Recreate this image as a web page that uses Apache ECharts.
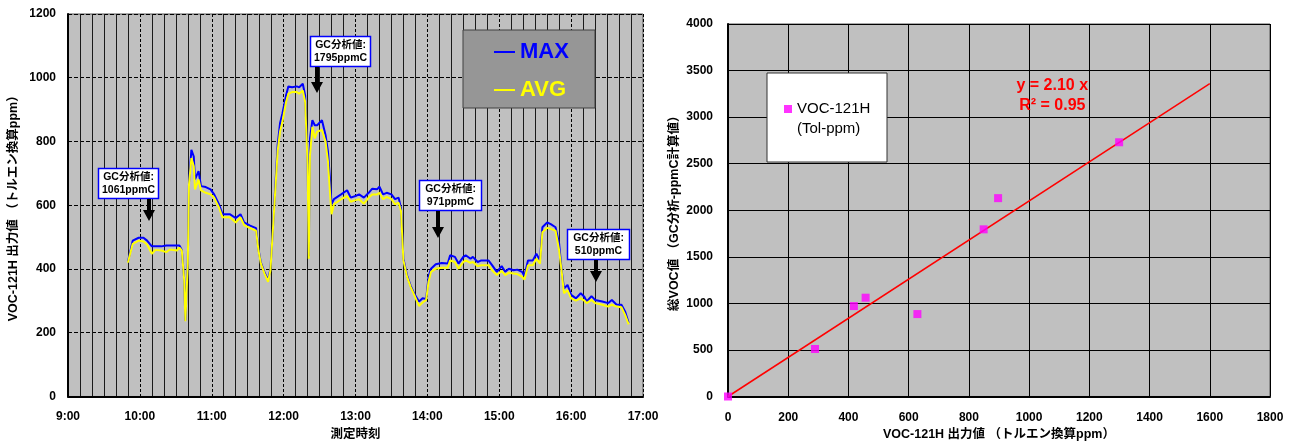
<!DOCTYPE html>
<html><head><meta charset="utf-8">
<script src="https://cdn.jsdelivr.net/npm/echarts@6.0.0/dist/echarts.min.js"></script>
<style>html,body{margin:0;padding:0;background:#fff}#c{width:1297px;height:446px}</style>
</head><body><div id="c"></div>
<script>
// ---- Left chart: time series (minutes since midnight) ----
const times = [590,594,599,603,606,610,613,618,622,625,631,633,635,637,638,640,641,643,645,646,649,651,655,659,662,666,669,675,680,684,687,692,697,699,701,704,707,709,711,715,717,719,722,724,727,731,733,736,738,740,741,742,744,746,748,752,755,757,759,760,762,768,773,776,780,783,787,791,794,798,800,803,806,810,813,816,818,820,823,826,829,833,836,839,841,843,847,852,857,859,863,866,870,872,876,878,882,885,891,894,898,902,905,908,912,915,919,921,924,928,931,934,936,940,943,947,950,952,954,957,960,964,968,971,973,977,980,986,991,994,998,1002,1005,1008];
const maxVals = [422,489,498,498,489,471,471,471,474,474,474,474,460,368,238,420,670,774,753,681,707,660,657,650,634,603,572,572,560,572,546,536,528,462,420,390,365,400,525,789,857,888,944,973,970,973,970,981,944,740,440,810,867,851,851,867,820,769,665,603,619,634,647,624,629,634,624,639,652,650,658,634,639,634,619,624,590,432,380,348,323,298,308,306,376,401,415,419,417,443,438,417,438,443,432,438,422,427,427,412,391,409,391,401,396,398,391,378,427,427,448,427,531,546,541,531,479,400,339,350,319,308,324,313,298,315,303,298,293,303,288,288,267,231];
const avgVals = [420,479,489,486,477,448,460,458,453,461,458,467,458,365,236,417,665,748,722,650,681,647,639,634,624,593,562,562,546,562,538,528,520,458,417,386,360,396,520,769,831,862,924,950,955,955,950,960,924,727,432,758,846,810,831,836,800,738,624,572,603,619,629,611,616,619,605,624,634,634,639,619,626,619,603,608,582,427,376,344,319,284,295,303,360,391,401,404,404,427,422,401,422,427,419,422,409,412,412,396,381,394,381,388,386,384,376,367,412,412,432,417,515,529,526,520,458,396,324,334,308,301,308,301,293,303,293,288,282,288,282,280,257,226];
const seriesNames = ['MAX', 'AVG'];
const timeMin = 540, timeMax = 1020, timeStep = 60;
const leftYMax = 1200, leftYStep = 200;

// GC analysis annotations (arrow tip in data coords)
const gcTitle = 'GC分析値:';
const gcTimes = [608, 748, 849, 981];
const gcTipValues = [552, 952, 498, 358];
const gcLabels = ['1061ppmC', '1795ppmC', '971ppmC', '510ppmC'];

// ---- Right chart: scatter ----
const vocOutput = [0, 289, 418, 457, 629, 849, 897, 1299];
const gcTotal   = [0, 510, 971, 1061, 885, 1795, 2130, 2730];
const scatterName = 'VOC-121H';
const scatterSub = '(Tol-ppm)';
const trendX = [0, 1600];
const slope = 2.10;
const r2 = 0.95;

const FONT = "'Liberation Sans', Arial, 'Noto Sans CJK JP', sans-serif";
const pad2 = n => (n < 10 ? '0' : '') + n;
const fmtTime = v => Math.floor(v / 60) + ':' + pad2(v % 60);
const fmtNum = v => String(v);

const chart = echarts.init(document.getElementById('c'), null, {renderer: 'canvas'});
const axisLabel = {color: '#000', fontFamily: FONT, fontWeight: 'bold', fontSize: 12};
const axisName = {color: '#000', fontFamily: FONT, fontWeight: 'bold', fontSize: 12.5};

const option = {
  animation: false,
  textStyle: {fontFamily: FONT},
  grid: [
    {left: 68, top: 14, width: 575, height: 386, show: true, backgroundColor: '#c0c0c0', borderColor: '#555', borderWidth: 1},
    {left: 728, top: 24, width: 542, height: 378, show: true, backgroundColor: '#c0c0c0', borderColor: '#555', borderWidth: 1}
  ],
  xAxis: [
    {gridIndex: 0, type: 'value', min: timeMin, max: timeMax, interval: timeStep,
     axisLine: {lineStyle: {color: '#000', width: 2}}, axisTick: {show: false},
     axisLabel: Object.assign({margin: 14, formatter: fmtTime}, axisLabel),
     splitLine: {show: true, lineStyle: {color: '#000', type: [3, 2], width: 1}},
     minorTick: {show: false, splitNumber: 6},
     minorSplitLine: {show: true, lineStyle: {color: '#1a1a1a', width: 1}},
     name: '測定時刻', nameLocation: 'middle', nameGap: 32, nameTextStyle: axisName},
    {gridIndex: 1, type: 'value', min: 0, max: 1800, interval: 200,
     axisLine: {lineStyle: {color: '#000', width: 2}}, axisTick: {show: false},
     axisLabel: Object.assign({margin: 15, formatter: fmtNum}, axisLabel),
     splitLine: {show: true, lineStyle: {color: '#000', width: 1}},
     name: 'VOC-121H 出力値 （トルエン換算ppm）', nameLocation: 'middle', nameGap: 32, nameTextStyle: axisName}
  ],
  yAxis: [
    {gridIndex: 0, type: 'value', min: 0, max: leftYMax, interval: leftYStep,
     axisLine: {show: true, lineStyle: {color: '#000', width: 2}}, axisTick: {show: false},
     axisLabel: Object.assign({margin: 12, formatter: fmtNum}, axisLabel),
     splitLine: {show: true, lineStyle: {color: '#000', type: [4, 2], width: 1}},
     name: 'VOC-121H 出力値 （トルエン換算ppm）', nameLocation: 'middle', nameGap: 48, nameTextStyle: axisName},
    {gridIndex: 1, type: 'value', min: 0, max: 4000, interval: 500,
     axisLine: {show: true, lineStyle: {color: '#000', width: 2}}, axisTick: {show: false},
     axisLabel: Object.assign({margin: 15, formatter: fmtNum}, axisLabel),
     splitLine: {show: true, lineStyle: {color: '#000', width: 1}},
     name: '総VOC値 （GC分析-ppmC計算値）', nameLocation: 'middle', nameGap: 47, nameTextStyle: axisName}
  ],
  legend: [
    {left: 463, top: 30, orient: 'vertical', selectedMode: false,
     backgroundColor: '#969696', borderColor: '#404040', borderWidth: 1,
     padding: [11, 25, 7, 31], itemGap: 16, itemWidth: 21, itemHeight: 2, icon: 'rect',
     textStyle: {fontSize: 22, fontWeight: 'bold', lineHeight: 22, width: 50, fontFamily: FONT},
     data: [{name: seriesNames[0], textStyle: {color: '#0000ff'}},
            {name: seriesNames[1], textStyle: {color: '#ffff00'}}]},
    {left: 767, top: 73, orient: 'vertical', selectedMode: false,
     backgroundColor: '#ffffff', borderColor: '#333', borderWidth: 1,
     padding: [27, 14, 44, 17], itemWidth: 8, itemHeight: 8, icon: 'rect', itemGap: 5,
     textStyle: {fontSize: 15, lineHeight: 18, width: 76, color: '#000', fontFamily: FONT},
     data: [scatterName]}
  ],
  series: [
    {name: seriesNames[0], type: 'line', xAxisIndex: 0, yAxisIndex: 0, showSymbol: false, symbol: 'none',
     lineStyle: {color: '#0000ff', width: 2}, itemStyle: {color: '#0000ff'},
     data: times.map((t, i) => [t, maxVals[i]])},
    {name: seriesNames[1], type: 'line', xAxisIndex: 0, yAxisIndex: 0, showSymbol: false, symbol: 'none',
     lineStyle: {color: '#ffff00', width: 2}, itemStyle: {color: '#ffff00'},
     data: times.map((t, i) => [t, avgVals[i]])},
    {name: 'trend', type: 'line', xAxisIndex: 1, yAxisIndex: 1, showSymbol: false, symbol: 'none',
     lineStyle: {color: '#ff0000', width: 1.5}, z: 3,
     data: trendX.map(x => [x, slope * x])},
    {name: scatterName, type: 'scatter', xAxisIndex: 1, yAxisIndex: 1, symbol: 'rect', symbolSize: 8,
     clip: false, itemStyle: {color: '#ff00ff'}, z: 4,
     data: vocOutput.map((x, i) => [x, gcTotal[i]])}
  ]
};
chart.setOption(option);

// Annotations and text overlays placed through the chart's own coordinate system
const boxDx = [-51, -7, -19, -29];
const boxDy = [-53, -57, -58, -53];
const boxW = [60, 60, 62, 62];
const boxH = 30;
const els = [];
gcTimes.forEach((t, i) => {
  const p = chart.convertToPixel({gridIndex: 0}, [t, gcTipValues[i]]);
  const ax = Math.round(p[0]), ay = Math.round(p[1]);
  const bx = ax + boxDx[i], by = ay + boxDy[i];
  els.push({type: 'rect', shape: {x: bx + 0.5, y: by + 0.5, width: boxW[i], height: boxH},
            style: {fill: '#fff', stroke: '#0000ff', lineWidth: 1.5}, z: 100});
  els.push({type: 'text', x: bx + boxW[i] / 2 + 0.5, y: by + boxH / 2 + 1, z: 101,
            style: {text: gcTitle + '\n' + gcLabels[i], fill: '#000', align: 'center', verticalAlign: 'middle',
                    font: 'bold 10.5px ' + FONT, lineHeight: 13}});
  const top = by + boxH + 1;
  els.push({type: 'polygon', z: 100, shape: {points: [
      [ax - 2, top], [ax + 2, top], [ax + 2, ay - 11], [ax + 6, ay - 11], [ax, ay], [ax - 6, ay - 11], [ax - 2, ay - 11]]},
      style: {fill: '#000'}});
});
const eq1 = chart.convertToPixel({gridIndex: 1}, [1077, 3335]);
const eq2 = chart.convertToPixel({gridIndex: 1}, [1077, 3122]);
els.push({type: 'text', x: eq1[0], y: eq1[1], z: 101,
          style: {text: 'y = ' + slope.toFixed(2) + ' x', fill: '#ff0000', align: 'center', verticalAlign: 'middle', font: 'bold 16px ' + FONT}});
els.push({type: 'text', x: eq2[0], y: eq2[1], z: 101,
          style: {text: 'R² = ' + r2.toFixed(2), fill: '#ff0000', align: 'center', verticalAlign: 'middle', font: 'bold 16px ' + FONT}});
els.push({type: 'text', x: 797, y: 129, z: 101,
          style: {text: scatterSub, fill: '#000', align: 'left', verticalAlign: 'middle', font: '15px ' + FONT}});
chart.setOption({graphic: els});
</script></body></html>
